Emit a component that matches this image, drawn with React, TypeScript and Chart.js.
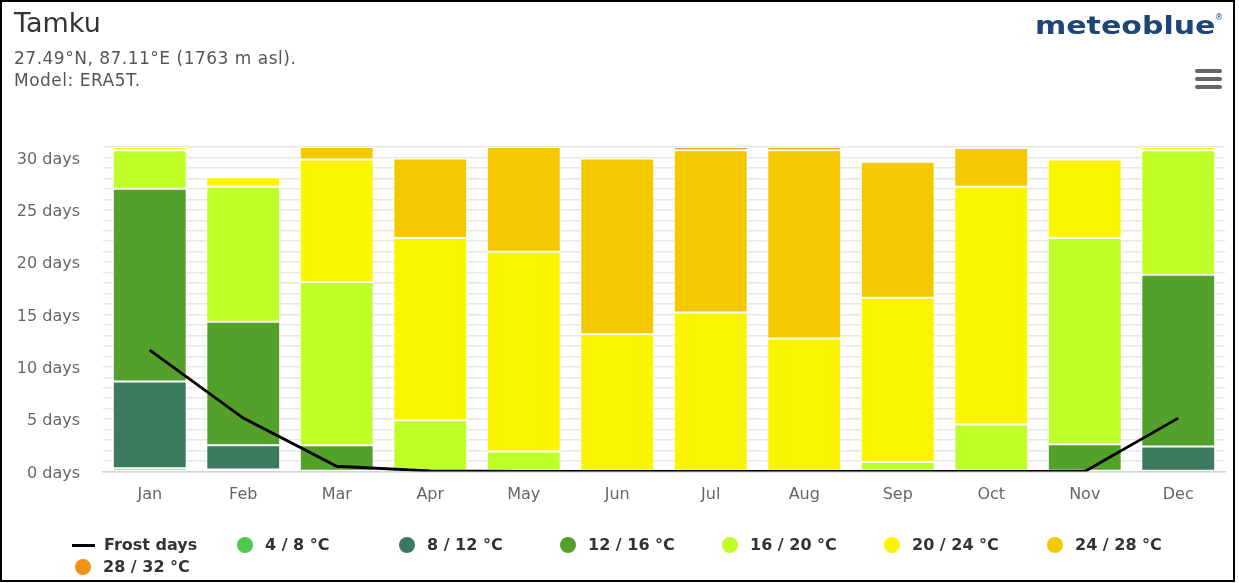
import React, { useEffect, useRef } from 'react';
import { Chart, registerables } from 'chart.js';
Chart.register(...registerables);

const months = ['Jan', 'Feb', 'Mar', 'Apr', 'May', 'Jun', 'Jul', 'Aug', 'Sep', 'Oct', 'Nov', 'Dec'];
const frostDays = [11.6, 5.1, 0.5, 0.05, 0, 0, 0, 0, 0, 0, 0, 5.1];
const t4to8 = [0.3, 0.2, 0, 0, 0, 0, 0, 0, 0, 0, 0, 0];
const t8to12 = [8.3, 2.3, 0, 0, 0, 0, 0, 0, 0, 0, 0, 2.4];
const t12to16 = [18.4, 11.8, 2.5, 0, 0, 0, 0, 0, 0, 0, 2.6, 16.4];
const t16to20 = [3.7, 12.9, 15.6, 4.9, 1.9, 0, 0, 0, 0.9, 4.5, 19.7, 11.9];
const t20to24 = [0.3, 0.9, 11.7, 17.4, 19.1, 13.1, 15.2, 12.7, 15.7, 22.7, 7.5, 0.3];
const t24to28 = [0, 0, 1.2, 7.6, 10.0, 16.8, 15.5, 18.0, 13.0, 3.7, 0, 0];
const t28to32 = [0, 0, 0, 0, 0, 0, 0.3, 0.3, 0, 0, 0, 0];

const seriesNames = ['4 / 8 °C', '8 / 12 °C', '12 / 16 °C', '16 / 20 °C', '20 / 24 °C', '24 / 28 °C', '28 / 32 °C'];
const seriesValues = [t4to8, t8to12, t12to16, t16to20, t20to24, t24to28, t28to32];
const seriesColors = ['#4dc94d', '#3b7a5c', '#53a02b', '#c0ff27', '#fbf500', '#f4c900', '#f0921a'];

// legend layout (symbol centre x, row)
const legendX = [245, 407, 568, 730, 892, 1055, 83];
const legendRow = [0, 0, 0, 0, 0, 0, 1];

const FONT = '"DejaVu Sans", Verdana, sans-serif';

export default function App() {
  const ref = useRef<HTMLCanvasElement>(null);

  useEffect(() => {
    const canvas = ref.current;
    if (!canvas) return;
    const nz = (a: number[]) => a.map((v) => (v === 0 ? null : v));
    const bars = seriesValues.map((vals, i) => ({
      type: 'bar' as const,
      label: seriesNames[i],
      data: nz(vals),
      backgroundColor: seriesColors[i],
      borderColor: '#ffffff',
      borderWidth: 1,
      borderSkipped: false,
      order: 1,
      barPercentage: 0.79,
      categoryPercentage: 1,
      stack: 'temp',
    }));
    const chart = new Chart(canvas, {
      data: {
        labels: months,
        datasets: [
          {
            type: 'line' as const,
            label: 'Frost days',
            data: frostDays,
            borderColor: '#000000',
            borderWidth: 2.8,
            pointRadius: 0,
            tension: 0,
            fill: false,
            order: 0,
          } as any,
          ...bars,
        ],
      },
      options: {
        animation: false,
        responsive: false,
        maintainAspectRatio: false,
        layout: { padding: { top: 147, right: 14, left: 0, bottom: 71.5 } },
        plugins: {
          legend: { display: false },
          tooltip: { enabled: false },
          title: { display: false },
        },
        scales: {
          x: {
            stacked: true,
            grid: { display: false, drawTicks: false },
            border: { color: '#ccd6eb', width: 1.5 },
            ticks: { color: '#666666', font: { family: FONT, size: 16 }, padding: 14 },
            afterFit: (s: any) => {
              s.height = 40;
            },
          },
          y: {
            stacked: true,
            min: 0,
            max: 31,
            grid: { color: '#e8e8e8', lineWidth: 1.5, drawTicks: false },
            border: { display: false },
            ticks: {
              stepSize: 1,
              autoSkip: false,
              color: '#666666',
              font: { family: FONT, size: 16 },
              padding: 23,
              labelOffset: 2,
              callback: (v: any) => (Number(v) % 5 === 0 ? `${v} days` : ''),
            },
            afterFit: (s: any) => {
              s.width = 103;
            },
          },
        },
      } as any,
    });
    return () => chart.destroy();
  }, []);

  const rowTop = [535, 557];

  return (
    <div style={{ position: 'absolute', left: 0, top: 0, width: 1239, height: 583, background: '#fff', fontFamily: FONT, overflow: 'hidden' }}>
      <canvas ref={ref} width={1239} height={583} style={{ position: 'absolute', left: 0, top: 0, width: 1239, height: 583 }} />
      <div style={{ position: 'absolute', left: 14, top: 5, fontSize: 27, lineHeight: '36px', color: '#333333' }}>Tamku</div>
      <div style={{ position: 'absolute', left: 14, top: 47, fontSize: 17, lineHeight: '22px', color: '#555555', letterSpacing: 0.5 }}>
        27.49°N, 87.11°E (1763 m asl).
      </div>
      <div style={{ position: 'absolute', left: 14, top: 69, fontSize: 17, lineHeight: '22px', color: '#555555', letterSpacing: 0.5 }}>
        Model: ERA5T.
      </div>
      <div
        style={{
          position: 'absolute',
          left: 1035,
          top: 10,
          fontSize: 25,
          lineHeight: '32px',
          fontWeight: 'bold',
          color: '#1e4576',
          transform: 'scaleX(1.2)',
          transformOrigin: 'left center',
        }}
      >
        meteoblue
      </div>
      <div style={{ position: 'absolute', left: 1215, top: 13, fontSize: 8, lineHeight: '10px', color: '#1e4576' }}>®</div>
      {[69, 77, 85].map((t) => (
        <div key={t} style={{ position: 'absolute', left: 1195, top: t, width: 27, height: 3.5, borderRadius: 2, background: '#666666' }} />
      ))}
      {/* legend */}
      <div style={{ position: 'absolute', left: 72, top: rowTop[0] + 9, width: 23, height: 2.5, background: '#000' }} />
      <div style={{ position: 'absolute', left: 104, top: rowTop[0], fontSize: 16, lineHeight: '20px', fontWeight: 'bold', color: '#333333' }}>
        Frost days
      </div>
      {seriesNames.map((name, i) => (
        <React.Fragment key={name}>
          <div
            style={{
              position: 'absolute',
              left: legendX[i] - 8,
              top: rowTop[legendRow[i]] + 2,
              width: 16,
              height: 16,
              borderRadius: 8,
              background: seriesColors[i],
            }}
          />
          <div
            style={{
              position: 'absolute',
              left: legendX[i] + 20,
              top: rowTop[legendRow[i]],
              fontSize: 16,
              lineHeight: '20px',
              fontWeight: 'bold',
              color: '#333333',
              whiteSpace: 'nowrap',
            }}
          >
            {name}
          </div>
        </React.Fragment>
      ))}
      <div
        style={{
          position: 'absolute',
          left: 0,
          top: 0,
          width: 1235,
          height: 582,
          border: '2px solid #000',
          boxSizing: 'border-box',
          pointerEvents: 'none',
        }}
      />
    </div>
  );
}
